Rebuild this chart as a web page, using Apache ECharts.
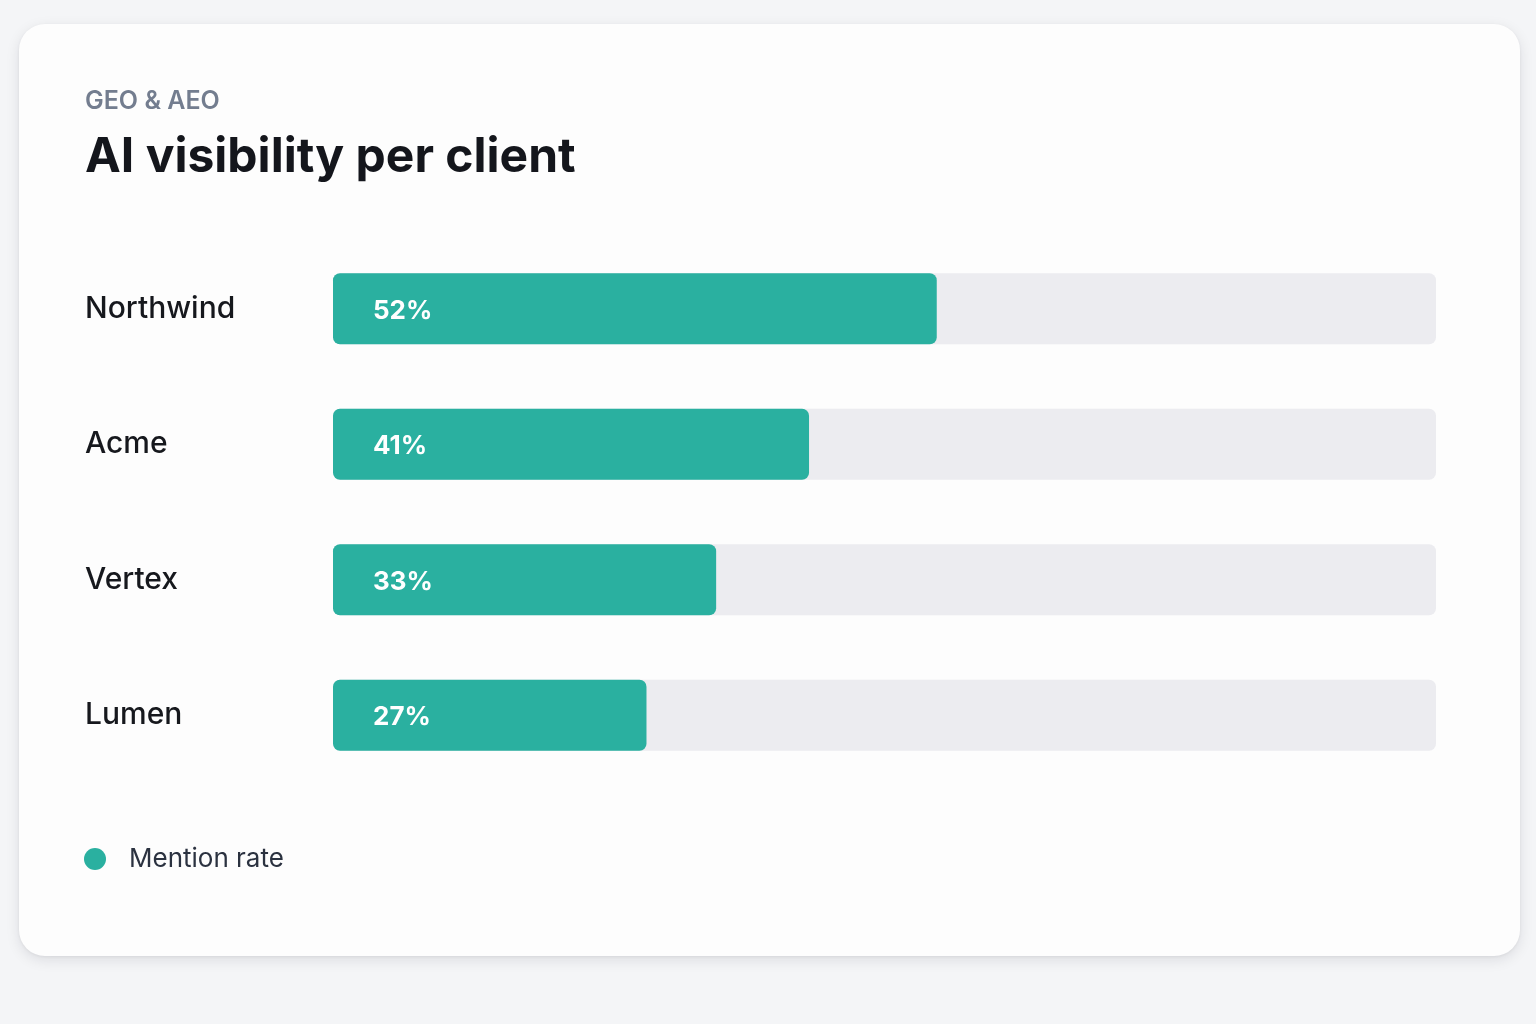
<!DOCTYPE html>
<html>
<head>
<meta charset="utf-8">
<script src="https://cdn.jsdelivr.net/npm/echarts@6/dist/echarts.min.js"></script>
<style>
  html, body { margin: 0; padding: 0; width: 1536px; height: 1024px; background: #f4f5f7; overflow: hidden; }
  #card {
    position: absolute; left: 19px; top: 24px; width: 1501px; height: 932px;
    background: #fdfdfd; border-radius: 26px;
    box-shadow: 0 4px 14px rgba(20, 24, 40, 0.10), 0 1px 3px rgba(20, 24, 40, 0.06);
  }
  #chart { position: absolute; left: 0; top: 0; width: 1536px; height: 1024px; }
</style>
</head>
<body>
<div id="card"></div>
<div id="chart"></div>
<script>
const clients = ['Northwind', 'Acme', 'Vertex', 'Lumen'];
const mentionRate = [52, 41, 33, 27];
const seriesName = 'Mention rate';

const TEAL = '#2ab0a0';
const TRACK = '#ececf0';
const FONT = 'Inter, "Noto Sans", sans-serif';

const chart = echarts.init(document.getElementById('chart'));

chart.setOption({
  backgroundColor: 'transparent',
  animation: false,
  textStyle: { fontFamily: FONT },
  title: [
    {
      text: 'GEO & AEO',
      left: 85,
      top: 89,
      padding: 0,
      textStyle: { fontSize: 25, fontWeight: 600, color: '#737d8f', fontFamily: FONT }
    },
    {
      text: 'AI visibility per client',
      left: 85,
      top: 134,
      padding: 0,
      textStyle: { fontSize: 48, fontWeight: 700, color: '#14161c', fontFamily: FONT }
    }
  ],
  legend: {
    left: 79,
    top: 841,
    icon: 'circle',
    itemWidth: 22,
    itemHeight: 22,
    data: [seriesName],
    textStyle: { fontSize: 26, color: '#2b3240', padding: [0, 0, 0, 18], fontFamily: FONT }
  },
  grid: { left: 333, right: 100, top: 241, bottom: 241 },
  xAxis: {
    type: 'value',
    min: 0,
    max: 95,
    show: false
  },
  yAxis: {
    type: 'category',
    inverse: true,
    data: clients,
    axisLine: { show: false },
    axisTick: { show: false },
    axisLabel: {
      align: 'left',
      margin: 248,
      fontSize: 30,
      fontWeight: 500,
      color: '#16181d',
      fontFamily: FONT
    }
  },
  series: [
    {
      name: seriesName,
      type: 'bar',
      data: mentionRate,
      barWidth: 71,
      itemStyle: { color: TEAL, borderRadius: 7 },
      showBackground: true,
      backgroundStyle: { color: TRACK, borderRadius: 7 },
      label: {
        show: true,
        position: 'insideLeft',
        distance: 40,
        offset: [0, 2],
        formatter: '{c}%',
        fontSize: 26,
        fontWeight: 700,
        color: '#ffffff',
        fontFamily: FONT
      }
    }
  ]
});
</script>
</body>
</html>
